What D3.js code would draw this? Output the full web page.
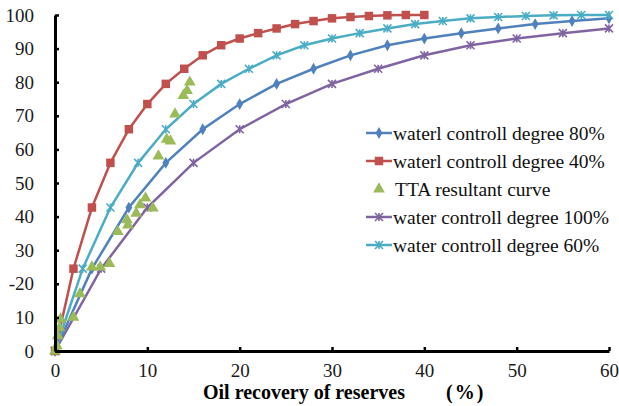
<!DOCTYPE html>
<html>
<head>
<meta charset="utf-8">
<script src="https://cdn.jsdelivr.net/npm/d3@7"></script>
<style>
  html, body { margin: 0; padding: 0; background: #fff; }
</style>
</head>
<body>
<div id="chart"></div>
<script>
// Oil recovery of reserves (%) vs curve value, by water control degree
const xTicks = [0, 10, 20, 30, 40, 50, 60];
const yTicks = [0, 10, 20, 30, 40, 50, 60, 70, 80, 90, 100];

const curveY = [0, 24.5, 42.7, 56, 66, 73.5, 79.5, 84, 88, 91, 93, 94.6, 96, 97.3, 98.2, 99, 99.4, 99.7, 99.9, 100, 100];

const x40 = [0, 2, 4, 6, 8, 10, 12, 14, 16, 18, 20, 22, 24, 26, 28, 30, 32, 34, 36, 38, 40];
const y40 = curveY;
const x60 = [0, 3, 6, 9, 12, 15, 18, 21, 24, 27, 30, 33, 36, 39, 42, 45, 48, 51, 54, 57, 60];
const y60 = curveY;
const x80 = [0, 4, 8, 12, 16, 20, 24, 28, 32, 36, 40, 44, 48, 52, 56, 60];
const y80 = curveY.slice(0, 16);
const x100 = [0, 5, 10, 15, 20, 25, 30, 35, 40, 45, 50, 55, 60];
const y100 = curveY.slice(0, 13);

const ttaX = [0, 0.2, 0.3, 0.5, 0.6, 2.0, 2.7, 4.0, 4.9, 5.9, 6.8, 7.9, 7.8, 8.8, 9.2, 9.8, 10.6, 11.2, 12.1, 12.5, 13.0, 13.9, 14.3, 14.6];
const ttaY = [0, 1.5, 4.5, 7, 9.5, 10, 17, 25, 25, 26, 35.5, 37.5, 39, 41, 43.5, 45.5, 42.5, 58, 63, 62.5, 70.5, 76, 77.5, 80];

const legendLabels = [
  'waterl controll degree 80%',
  'waterl controll degree 40%',
  'TTA resultant curve',
  'water controll degree 100%',
  'water controll degree 60%'
];

const FONT = 'Liberation Serif';
const W = 619, H = 406;
const margin = { left: 55, right: 10, top: 15, bottom: 55 };

const svg = d3.select('#chart').append('svg')
  .attr('width', W).attr('height', H);

const xScale = d3.scaleLinear().domain([0, 60]).range([margin.left, W - margin.right]);
const yScale = d3.scaleLinear().domain([0, 100]).range([H - margin.bottom, margin.top]);

const series = [
  { name: legendLabels[0], xs: x80, ys: y80, color: '#4F81BD', marker: 'diamond', line: true },
  { name: legendLabels[1], xs: x40, ys: y40, color: '#C0504D', marker: 'square', line: true },
  { name: legendLabels[2], xs: ttaX, ys: ttaY, color: '#9BBB59', marker: 'triangle', line: false },
  { name: legendLabels[3], xs: x100, ys: y100, color: '#8064A2', marker: 'star', line: true },
  { name: legendLabels[4], xs: x60, ys: y60, color: '#4BACC6', marker: 'star', line: true }
];

function drawMarker(g, type, color) {
  if (type === 'diamond') {
    g.append('path').attr('d', d3.symbol(d3.symbolDiamond, 40)()).attr('fill', color);
  } else if (type === 'square') {
    g.append('path').attr('d', d3.symbol(d3.symbolSquare, 72)()).attr('fill', color);
  } else if (type === 'triangle') {
    g.append('path').attr('d', d3.symbol(d3.symbolTriangle, 60)()).attr('fill', color);
  } else if (type === 'star') {
    const s = 4;
    g.append('path')
      .attr('d', `M${-s},${-s}L${s},${s}M${-s},${s}L${s},${-s}M0,${-s}L0,${s}`)
      .attr('stroke', color).attr('stroke-width', 1.6).attr('fill', 'none');
  }
}

// lines
const line = d3.line().x(d => xScale(d[0])).y(d => yScale(d[1]));
const order = [3, 0, 4, 1, 2];
order.forEach(i => {
  const s = series[i];
  const pts = s.xs.map((x, k) => [x, s.ys[k]]);
  if (s.line) {
    svg.append('path').datum(pts)
      .attr('d', line)
      .attr('fill', 'none')
      .attr('stroke', s.color)
      .attr('stroke-width', 2.5);
  }
  const mg = svg.append('g');
  pts.forEach(p => {
    const g = mg.append('g').attr('transform', `translate(${xScale(p[0])},${yScale(p[1])})`);
    drawMarker(g, s.marker, s.color);
  });
});

// axes
const xAxis = svg.append('g')
  .attr('transform', `translate(0,${yScale(0)})`)
  .call(d3.axisBottom(xScale).tickValues(xTicks).tickSize(-4).tickSizeOuter(0).tickPadding(22));
const yAxis = svg.append('g')
  .attr('transform', `translate(${xScale(0)},0)`)
  .call(d3.axisLeft(yScale).tickValues(yTicks).tickSize(-4).tickSizeOuter(0).tickPadding(21)
    .tickFormat(d => d === 20 ? '-20' : d)); // the source image shows a stray dash on 20

[xAxis, yAxis].forEach(a => {
  a.attr('font-family', FONT).attr('font-size', 19);
  a.select('.domain').attr('stroke', '#000').attr('stroke-width', 3);
  a.selectAll('.tick line').attr('stroke', '#000').attr('stroke-width', 2.5);
  a.selectAll('.tick text').attr('fill', '#1a1a1a');
});
xAxis.selectAll('.tick text').attr('dy', '0.2em');

// x axis title
svg.append('text')
  .attr('x', 203).attr('y', 399)
  .attr('font-family', FONT)
  .attr('font-weight', 'bold').attr('font-size', 20)
  .text('Oil recovery of reserves');
svg.append('text')
  .attr('x', 446).attr('y', 399)
  .attr('font-family', FONT)
  .attr('font-weight', 'bold').attr('font-size', 20)
  .attr('letter-spacing', 2)
  .text('(%)');

// legend
const legend = svg.append('g').attr('transform', 'translate(366,133)');
series.forEach((s, i) => {
  const row = legend.append('g').attr('transform', `translate(0,${i * 28})`);
  if (s.line) {
    row.append('line').attr('x1', 0).attr('x2', 26).attr('y1', 0).attr('y2', 0)
      .attr('stroke', s.color).attr('stroke-width', 2.5);
  }
  const mg = row.append('g').attr('transform', 'translate(13,0)');
  drawMarker(mg, s.marker, s.color);
  row.append('text')
    .attr('x', s.line ? 27 : 29).attr('dy', '0.35em')
    .attr('font-family', FONT)
    .attr('font-size', 19.5).attr('fill', '#111')
    .text(s.name);
});
</script>
</body>
</html>
